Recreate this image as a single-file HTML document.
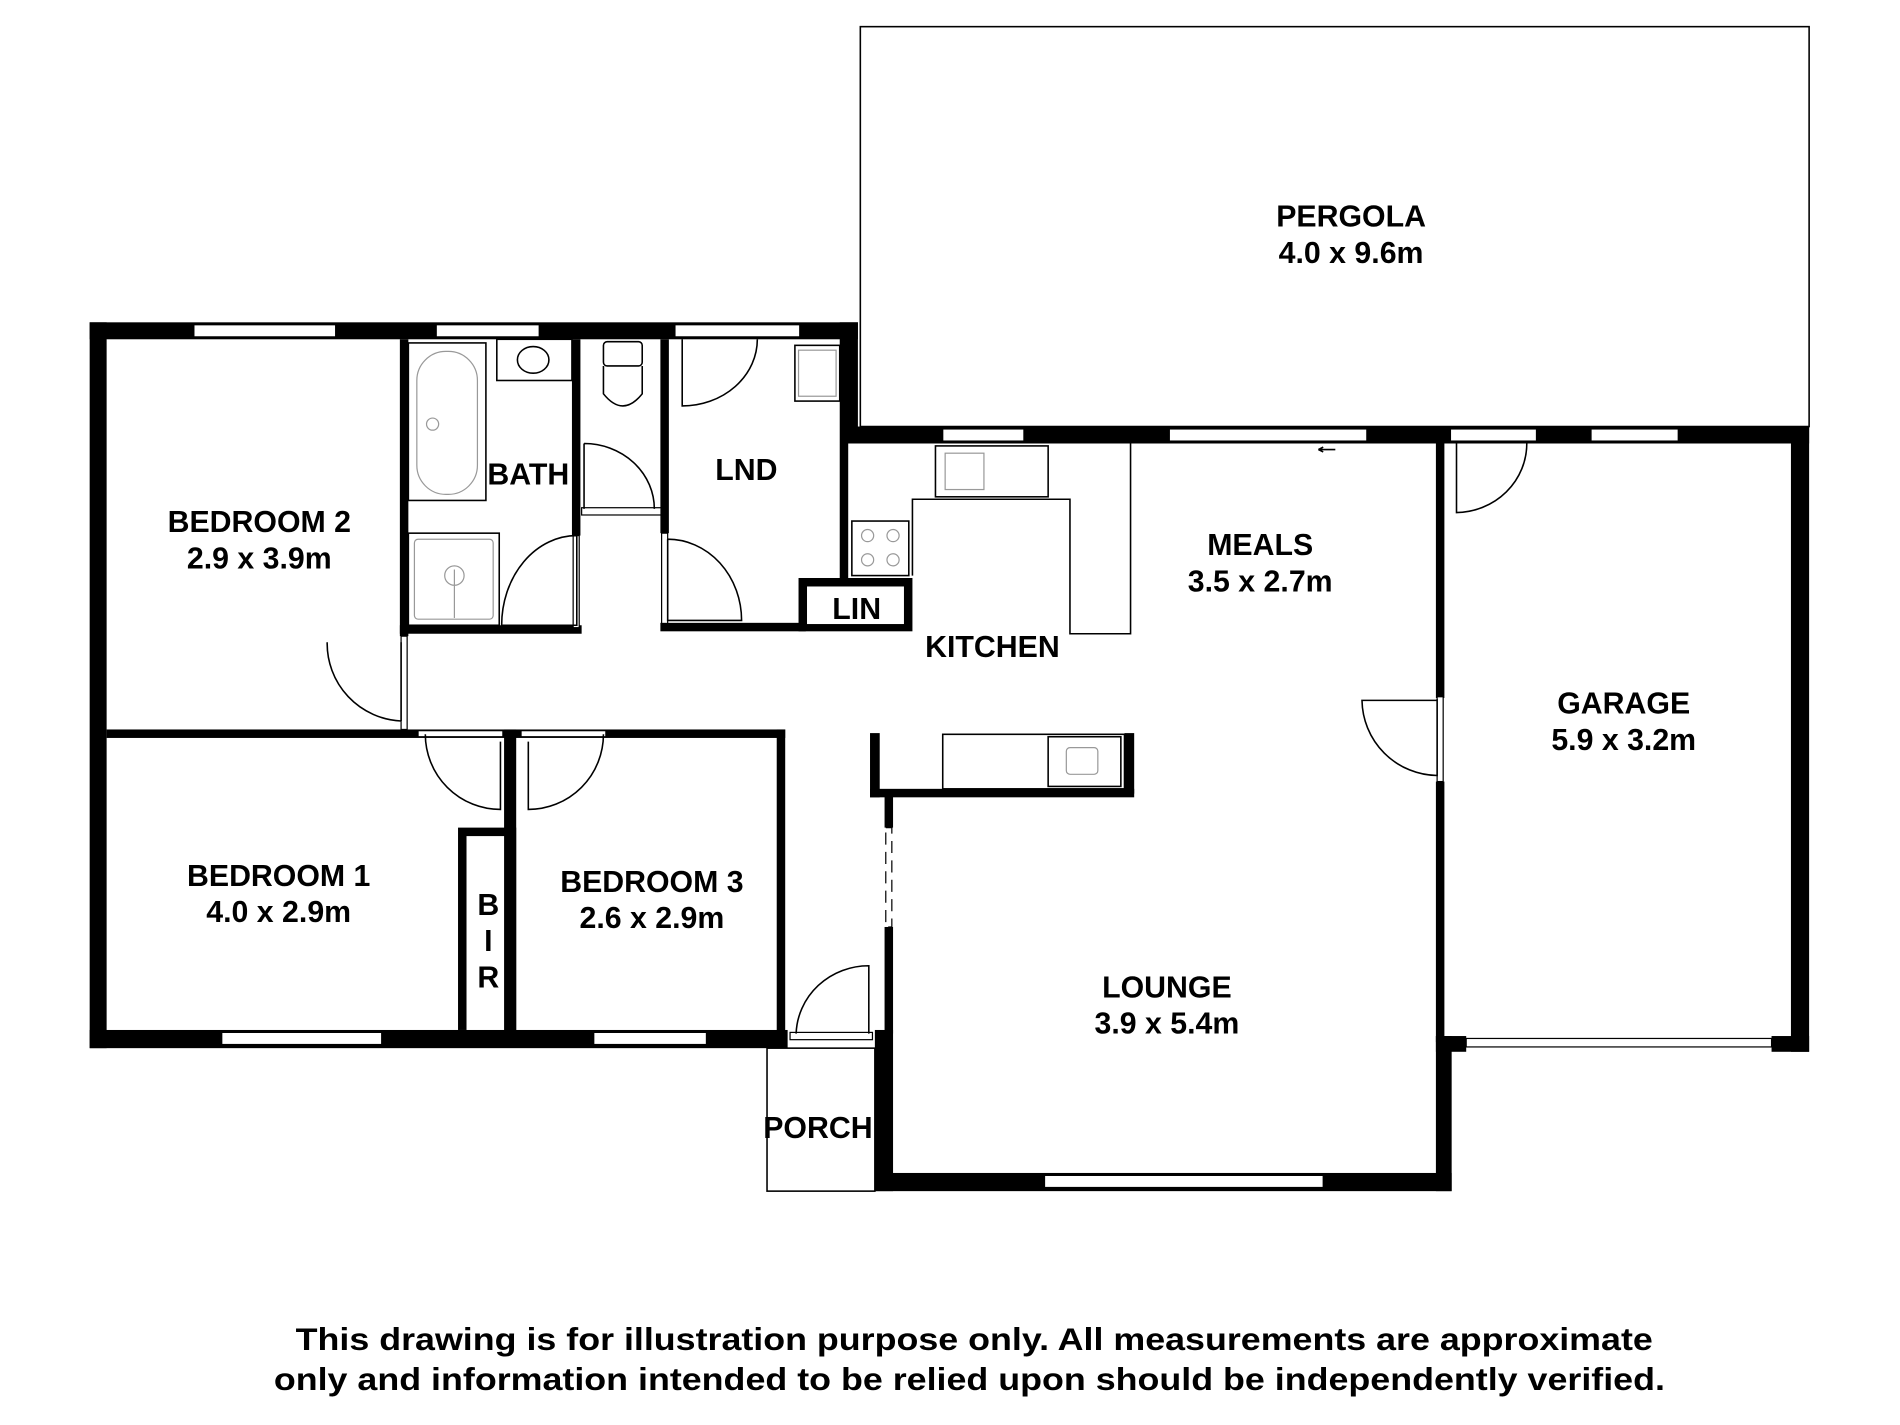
<!DOCTYPE html>
<html><head><meta charset="utf-8"><style>
html,body{margin:0;padding:0;background:#fff}
svg{display:block}
text{font-family:"Liberation Sans",Arial,sans-serif;font-weight:bold;fill:#000}
.w{fill:#000}
.t{fill:none;stroke:#000;stroke-width:1.3}
.g{fill:none;stroke:#999;stroke-width:1}
.win{fill:#fff;stroke:#000;stroke-width:1}
</style></head><body>
<svg width="1900" height="1425" viewBox="0 0 1568 1176" xmlns="http://www.w3.org/2000/svg">
<rect x="0" y="0" width="1568" height="1176" fill="#fff"/>
<rect x="710" y="22" width="783" height="330" class="t"/>
<rect x="633" y="865" width="89" height="118" class="t"/>

<rect class="w" x="74" y="266" width="634" height="14"/>
<rect class="win" x="160" y="268" width="117" height="10"/>
<rect class="win" x="360" y="268" width="85" height="10"/>
<rect class="win" x="557" y="268" width="103" height="10"/>
<rect class="w" x="74" y="266" width="14" height="599"/>
<rect class="w" x="74" y="850" width="576" height="15"/>
<rect class="win" x="183" y="852" width="132" height="10"/>
<rect class="win" x="490" y="852" width="93" height="10"/>
<rect class="w" x="88" y="602" width="560" height="7"/>
<rect class="win" x="345" y="603" width="70" height="5"/>
<rect class="win" x="430" y="603" width="70" height="5"/>
<rect class="w" x="330" y="280" width="7" height="245"/>
<rect class="win" x="331" y="525" width="5" height="77"/>
<rect class="w" x="330" y="516" width="150" height="7"/>
<rect class="w" x="472" y="280" width="7" height="162"/>
<rect class="win" x="473" y="442" width="5" height="76"/>
<rect class="win" x="480" y="419" width="66" height="6"/>
<rect class="w" x="545" y="280" width="7" height="160"/>
<rect class="win" x="546" y="440" width="5" height="76"/>
<rect class="w" x="545" y="514" width="120" height="7"/>
<rect class="w" x="693" y="266" width="15" height="100"/>
<rect class="w" x="693" y="366" width="7" height="112"/>
<rect class="w" x="659" y="477" width="94" height="44"/>
<rect x="666" y="484" width="80" height="31" fill="#fff"/>
<rect class="w" x="695" y="352" width="498" height="14"/>
<rect class="win" x="778" y="354" width="67" height="10"/>
<rect class="win" x="965" y="354" width="163" height="10"/>
<rect class="w" x="1185" y="352" width="308" height="14"/>
<rect class="win" x="1197" y="354" width="71" height="10"/>
<rect class="win" x="1313" y="354" width="72" height="10"/>
<rect class="w" x="1478" y="352" width="15" height="516"/>
<rect class="w" x="1185" y="855" width="25" height="13"/>
<rect class="w" x="1462" y="855" width="31" height="13"/>
<rect class="win" x="1210" y="857" width="252" height="7"/>
<rect class="w" x="1185" y="366" width="7" height="210"/>
<rect class="win" x="1186" y="575" width="5" height="70"/>
<rect class="w" x="1185" y="645" width="7" height="215"/>
<rect class="w" x="1185" y="855" width="13" height="128"/>
<rect class="w" x="722" y="968" width="476" height="15"/>
<rect class="win" x="862" y="970" width="230" height="10"/>
<rect class="w" x="722" y="850" width="15" height="133"/>
<rect class="w" x="730" y="655" width="7" height="28"/>
<rect x="731" y="683" width="5" height="82" fill="#fff" stroke="#000" stroke-width="1" stroke-dasharray="10,6"/>
<rect class="w" x="730" y="765" width="7" height="88"/>
<rect class="w" x="718" y="605" width="8" height="53"/>
<rect class="w" x="718" y="651" width="218" height="7"/>
<rect class="w" x="928" y="605" width="8" height="50"/>
<rect class="w" x="641" y="602" width="7" height="263"/>
<rect class="w" x="416" y="602" width="10" height="248"/>
<rect class="w" x="378" y="683" width="48" height="167"/>
<rect x="385" y="690" width="31" height="160" fill="#fff"/>
<rect class="win" x="652" y="852" width="68" height="6"/>

<path class="t" d="M331 530 L331 595 M331 595 A64 64 0 0 1 270 530"/>
<path class="t" d="M413 612 L413 668 A62 62 0 0 1 351 606"/>
<path class="t" d="M436 612 L436 668 A62 62 0 0 0 498 606"/>
<path class="t" d="M476 442 L476 516 L414 516 A62 74 0 0 1 476 442"/>
<path class="t" d="M482 366 L482 420 M482 366 A58 54 0 0 1 540 420"/>
<path class="t" d="M563 280 L563 335 A62 55 0 0 0 625 280"/>
<path class="t" d="M551 445 L551 512 L612 512 A61 67 0 0 0 551 445"/>
<path class="t" d="M1202 366 L1202 423 A59 57 0 0 0 1260 366"/>
<path class="t" d="M1186 577 L1186 640 A63 63 0 0 1 1124 578 L1186 578"/>
<path class="t" d="M657 853 A60 58 0 0 1 717 797 L717 853"/>
<path class="t" d="M1088 371 L1102 371 M1088 371 l4 -2 M1088 371 l4 2"/>

<rect class="t" x="337" y="283" width="64" height="130"/>
<rect class="g" x="344" y="290" width="50" height="118" rx="24"/>
<circle class="g" cx="357" cy="350" r="5"/>
<rect class="t" x="410" y="280" width="62" height="34"/>
<ellipse class="t" cx="440" cy="297" rx="13" ry="11"/>
<rect class="t" x="337" y="440" width="75" height="76"/>
<rect class="g" x="342" y="445" width="65" height="66" rx="3"/>
<circle class="g" cx="375" cy="475" r="8"/>
<line class="g" x1="375" y1="470" x2="375" y2="510"/>
<rect class="t" x="498" y="282" width="32" height="20" rx="3"/>
<path class="t" d="M498 302 L498 325 Q514 345 530 325 L530 302"/>
<rect class="t" x="656" y="285" width="37" height="46"/>
<rect class="g" x="659" y="289" width="31" height="38"/>
<rect class="t" x="772" y="368" width="93" height="42"/>
<rect class="g" x="780" y="374" width="32" height="30"/>
<path class="t" d="M753 475 L753 412 L883 412 L883 523 L933 523 L933 366"/>
<rect class="t" x="703" y="430" width="47" height="45"/>
<circle class="g" cx="716" cy="442" r="5"/><circle class="g" cx="737" cy="442" r="5"/>
<circle class="g" cx="716" cy="462" r="5"/><circle class="g" cx="737" cy="462" r="5"/>
<rect class="t" x="778" y="606" width="150" height="45"/>
<rect class="t" x="865" y="608" width="60" height="41"/>
<rect class="g" x="880" y="617" width="26" height="22" rx="3"/>

<g font-size="25" text-anchor="middle">
<text x="1115" y="187">PERGOLA</text><text x="1115" y="217">4.0 x 9.6m</text>
<text x="214" y="439">BEDROOM 2</text><text x="214" y="469">2.9 x 3.9m</text>
<text x="436" y="400">BATH</text>
<text x="616" y="396">LND</text>
<text x="707" y="511">LIN</text>
<text x="819" y="542">KITCHEN</text>
<text x="1040" y="458">MEALS</text><text x="1040" y="488">3.5 x 2.7m</text>
<text x="1340" y="589">GARAGE</text><text x="1340" y="619">5.9 x 3.2m</text>
<text x="230" y="731">BEDROOM 1</text><text x="230" y="761">4.0 x 2.9m</text>
<text x="538" y="736">BEDROOM 3</text><text x="538" y="766">2.6 x 2.9m</text>
<text x="403" y="755">B</text><text x="403" y="785">I</text><text x="403" y="815">R</text>
<text x="963" y="823">LOUNGE</text><text x="963" y="853">3.9 x 5.4m</text>
<text x="675" y="939">PORCH</text>
</g>
<g font-size="26" text-anchor="middle">
<text x="804" y="1114" textLength="1120" lengthAdjust="spacingAndGlyphs">This drawing is for illustration purpose only. All measurements are approximate</text>
<text x="800" y="1147" textLength="1148" lengthAdjust="spacingAndGlyphs">only and information intended to be relied upon should be independently verified.</text>
</g>
</svg>
</body></html>
